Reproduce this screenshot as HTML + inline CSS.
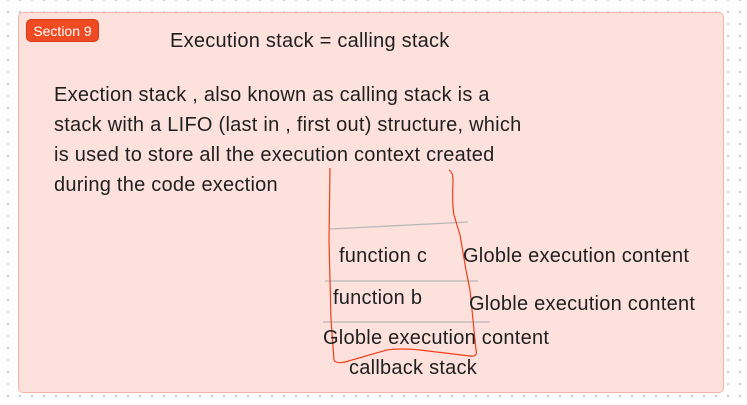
<!DOCTYPE html>
<html><head><style>
body{margin:0;width:747px;height:405px;background:#fff;position:relative;overflow:hidden;font-family:"Liberation Sans",sans-serif;color:#1f1f1f;
background-image:radial-gradient(#c8c8c8 1px,transparent 1.2px);background-size:12px 12px;background-position:2px 6px}
.f{position:absolute;left:18px;top:12px;width:704px;height:379px;background:#fde1dd;border:1px solid #f6b3a7;border-radius:5px}
.t{position:absolute;white-space:nowrap;font-size:20px;letter-spacing:0.25px}
.b{position:absolute;left:26px;top:19px;width:73px;height:23px;background:#f04a22;border:1px solid #d63c18;border-radius:5px;color:#fff;font-size:14px;line-height:23px;text-align:center;box-sizing:border-box}
</style></head><body>
<div class="f"></div>
<div class="b">Section 9</div>
<div class="t" style="left:170px;top:30px">Execution stack = calling stack</div>
<div class="t" style="left:54px;top:80px;line-height:30px;white-space:normal;width:520px">Exection stack , also known as calling stack is a<br>stack with a LIFO (last in , first out) structure, which<br>is used to store all the execution context created<br>during the code exection</div>
<svg style="position:absolute;left:0;top:0" width="747" height="405">
<g stroke="#b8b8b8" stroke-width="1.3" fill="none">
<line x1="330" y1="229" x2="468" y2="222"/>
<line x1="325" y1="281" x2="478" y2="281"/>
<line x1="323" y1="322" x2="490" y2="322"/>
</g>
<path d="M330 168 L329 240 L331 320 L334 360 Q336 364 345 362 L387 350 Q400 348 420 350 L470 356 Q478 357 476 350 L473 320 L470 290 L466 270 L460 235 L454 215 Q452 205 453 180 Q453 172 449 170" stroke="#f0401a" stroke-width="1.2" fill="none"/>
</svg>
<div class="t" style="left:339px;top:245px">function c</div>
<div class="t" style="left:333px;top:287px">function b</div>
<div class="t" style="left:463px;top:245px">Globle execution content</div>
<div class="t" style="left:469px;top:293px">Globle execution content</div>
<div class="t" style="left:323px;top:327px">Globle execution content</div>
<div class="t" style="left:349px;top:357px">callback stack</div>
</body></html>
